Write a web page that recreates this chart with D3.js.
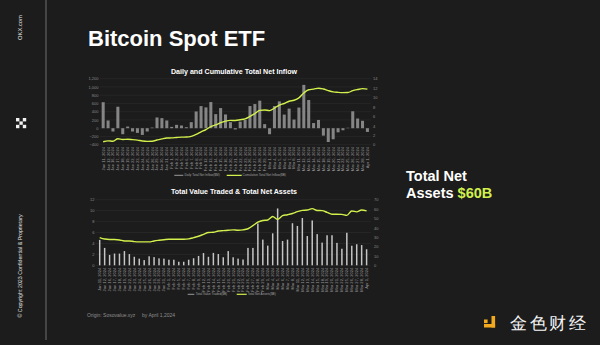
<!DOCTYPE html>
<html><head><meta charset="utf-8">
<script src="https://cdn.jsdelivr.net/npm/d3@7"></script>
<style>
html,body{margin:0;padding:0;background:#1c1c1c;overflow:hidden}
svg{display:block}
text{font-family:"Liberation Sans",Arial,Helvetica,sans-serif}
</style></head><body>
<svg id="c" width="600" height="345"></svg>
<script>
const dates = ["Jan 11, 2024","Jan 12, 2024","Jan 16, 2024","Jan 17, 2024","Jan 18, 2024","Jan 19, 2024","Jan 22, 2024","Jan 23, 2024","Jan 24, 2024","Jan 25, 2024","Jan 26, 2024","Jan 29, 2024","Jan 30, 2024","Jan 31, 2024",
"Feb 1, 2024","Feb 2, 2024","Feb 5, 2024","Feb 6, 2024","Feb 7, 2024","Feb 8, 2024","Feb 9, 2024","Feb 12, 2024","Feb 13, 2024","Feb 14, 2024","Feb 15, 2024","Feb 16, 2024","Feb 20, 2024","Feb 21, 2024","Feb 22, 2024","Feb 23, 2024","Feb 26, 2024","Feb 27, 2024","Feb 28, 2024","Feb 29, 2024",
"Mar 1, 2024","Mar 4, 2024","Mar 5, 2024","Mar 6, 2024","Mar 7, 2024","Mar 8, 2024","Mar 11, 2024","Mar 12, 2024","Mar 13, 2024","Mar 14, 2024","Mar 15, 2024","Mar 18, 2024","Mar 19, 2024","Mar 20, 2024","Mar 21, 2024","Mar 22, 2024","Mar 25, 2024","Mar 26, 2024","Mar 27, 2024","Mar 28, 2024",
"Apr 1, 2024"];
// Daily Total Net Inflow ($M)
const dailyInflow = [630,187,-80,520,-146,40,-80,-114,-163,-80,15,260,244,187,32,81,65,24,146,406,536,504,634,341,488,333,146,-30,160,200,537,585,667,98,-146,537,650,330,475,210,500,1050,683,125,200,-180,-335,-268,-100,-50,10,410,235,180,-90];
// Cumulative Total Net Inflow ($B)
const cumulativeInflow = [0.63,0.82,0.74,1.26,1.11,1.15,1.07,0.96,0.79,0.71,0.73,0.99,1.23,1.42,1.45,1.53,1.6,1.62,1.77,2.17,2.71,3.21,3.85,4.19,4.68,5.01,5.16,5.13,5.29,5.49,6.02,6.61,7.28,7.37,7.23,7.76,8.41,8.74,9.22,9.43,9.93,10.98,11.66,11.79,11.99,11.81,11.47,11.2,11.1,11.05,11.06,11.47,11.71,11.89,11.8];
// Total Value Traded ($B)
const valueTraded = [4.65,3.18,1.9,2.15,2.14,2.6,2.05,1.56,1.22,0.95,1.65,1.5,1.27,1.22,1.02,1.02,0.65,0.65,1.02,1.29,1.71,2.24,1.56,2.27,2.06,1.47,2.6,1.47,1.22,1.06,3.18,3.18,7.65,4.7,3.6,5.85,10.4,4.45,4.7,7.7,7.2,8.65,5.35,8.2,5.7,4.15,5.5,5.5,4.1,3.03,5.95,3.58,3.85,3.7,2.94];
// Total Net Assets ($B)
const netAssets = [29.5,28,27.5,27.5,27,26,26,25.3,25,25,25,26,26.7,27.3,27.8,27.8,27.8,27.8,28.2,29.5,31,33,35,35.3,36.6,37,37.4,37.8,37.4,37.8,39,42.3,46,47.8,48.3,52,49,53,54,55.3,57.3,58.6,59,60.5,58.5,58.3,56.5,54.5,54.5,54.3,53.3,58,57,59,58];

const inflowTicks = [-400,-200,0,200,400,600,800,1000,1200];
const cumTicks = [0,2,4,6,8,10,12,14];
const tradedTicks = [0,2,4,6,8,10,12];
const assetTicks = [0,10,20,30,40,50,60,70];

const GREEN = "#d2f14c";
const AX = "#8a8a8a";
const svg = d3.select("#c");
svg.append("rect").attr("width",600).attr("height",345).attr("fill","#1c1c1c");

// ---------- sidebar ----------
svg.append("line").attr("x1",46).attr("x2",46).attr("y1",0).attr("y2",340)
  .attr("stroke","#5e5e5e").attr("stroke-width",1.3);
svg.append("text").attr("transform","translate(22,27.5) rotate(-90)")
  .attr("text-anchor","middle").attr("fill","#e8e8e8").attr("font-size",5.8).text("OKX.com");
svg.append("text").attr("transform","translate(22,266) rotate(-90)")
  .attr("text-anchor","middle").attr("fill","#e0e0e0").attr("font-size",5.3)
  .text("© Copyright 2023 Confidential & Proprietary");
[[0,0],[2,0],[1,1],[0,2],[2,2]].forEach(([i,j])=>{
  svg.append("rect").attr("x",16+i*3.4).attr("y",118+j*3.4).attr("width",3.4).attr("height",3.4).attr("fill","#f2f2f2");
});

// ---------- title ----------
svg.append("text").attr("x",88).attr("y",46).attr("fill","#ffffff")
  .attr("font-size",22).attr("font-weight","bold").text("Bitcoin Spot ETF");

// ---------- right text ----------
svg.append("text").attr("x",406).attr("y",180.5).attr("fill","#ffffff")
  .attr("font-size",14.5).attr("font-weight","bold").text("Total Net");
const t2 = svg.append("text").attr("x",406).attr("y",198).attr("fill","#ffffff")
  .attr("font-size",14.5).attr("font-weight","bold");
t2.append("tspan").text("Assets ");
t2.append("tspan").attr("fill",GREEN).text("$60B");

// ---------- footer ----------
svg.append("text").attr("x",87).attr("y",317).attr("fill","#8e8e8e").attr("font-size",5)
  .text("Origin: Sosovalue.xyz");
svg.append("text").attr("x",142).attr("y",317).attr("fill","#8e8e8e").attr("font-size",5)
  .text("by April 1,2024");

// ---------- logo bottom-right ----------
const lg = svg.append("g").attr("fill","#f2a91d");
lg.append("rect").attr("x",484).attr("y",319.5).attr("width",3.6).attr("height",3.6);
lg.append("rect").attr("x",491.5).attr("y",316).attr("width",3.6).attr("height",11.5);
lg.append("rect").attr("x",484).attr("y",324).attr("width",11.1).attr("height",3.5);
svg.append("text").attr("x",510).attr("y",328.5).attr("fill","#f4f4f4")
  .attr("font-family","'Noto Sans CJK SC'").attr("font-size",16.5).attr("letter-spacing",2.5)
  .text("金色财经");

// ---------- helper: axis styling ----------
function styleAxis(g, anchor){
  g.select(".domain").remove();
  g.selectAll("text").attr("fill",AX).attr("font-size",4).style("font-family","'Liberation Sans',Arial,sans-serif");
  if(anchor) g.selectAll("text").attr("text-anchor",anchor);
}
function dateAxis(g){
  g.select(".domain").remove();
  g.selectAll("text").attr("fill","#9a9a9a").attr("font-size",4.1)
    .attr("transform","rotate(-90)").attr("x",-1.5).attr("y",0).attr("dy","0.35em")
    .style("text-anchor","end").style("font-family","'Liberation Sans',Arial,sans-serif");
}

// ---------- chart 1 ----------
const c1 = svg.append("g");
c1.append("defs").append("clipPath").attr("id","clip1").append("rect")
  .attr("x",80).attr("y",60).attr("width",320).attr("height",116.8);
const p1 = c1.append("g").attr("clip-path","url(#clip1)");
p1.append("text").attr("x",234).attr("y",73.5).attr("text-anchor","middle")
  .attr("fill","#ffffff").attr("font-size",7.1).attr("font-weight","bold")
  .text("Daily and Cumulative Total Net Inflow");

const x1 = d3.scaleBand().domain(dates).range([99.8,370.8]).padding(0.38);
const yL1 = d3.scaleLinear().domain([-400,1200]).range([144.7,78.7]);
const yR1 = d3.scaleLinear().domain([0,14]).range([144.7,78.7]);

p1.append("g").selectAll("line").data(inflowTicks).join("line")
  .attr("x1",99.8).attr("x2",370.8).attr("y1",d=>yL1(d)).attr("y2",d=>yL1(d))
  .attr("stroke","#303030").attr("stroke-width",0.5);
p1.append("g").attr("transform","translate(98.5,0)")
  .call(d3.axisLeft(yL1).tickValues(inflowTicks).tickSize(0).tickPadding(0)).call(g=>styleAxis(g,"end"));
p1.append("g").attr("transform","translate(373,0)")
  .call(d3.axisRight(yR1).tickValues(cumTicks).tickSize(0).tickPadding(0)).call(g=>styleAxis(g,"start"));

p1.append("g").selectAll("rect").data(dailyInflow).join("rect")
  .attr("x",(d,i)=>x1(dates[i])).attr("width",x1.bandwidth())
  .attr("y",d=>Math.min(yL1(d),yL1(0))).attr("height",d=>Math.abs(yL1(d)-yL1(0)))
  .attr("fill","#858585");

p1.append("path").datum(cumulativeInflow)
  .attr("d",d3.line().x((d,i)=>x1(dates[i])+x1.bandwidth()/2).y(d=>yR1(d)).curve(d3.curveMonotoneX))
  .attr("fill","none").attr("stroke",GREEN).attr("stroke-width",1.4);

p1.append("g").attr("transform","translate(0,145.5)")
  .call(d3.axisBottom(x1).tickSize(0)).call(dateAxis);

// legend 1
p1.append("line").attr("x1",174.3).attr("x2",183.3).attr("y1",175.3).attr("y2",175.3).attr("stroke","#9a9a9a").attr("stroke-width",1);
p1.append("text").attr("x",184.5).attr("y",176.4).attr("fill","#a0a0a0").attr("font-size",3.1).text("Daily Total Net Inflow($M)");
p1.append("line").attr("x1",226.7).attr("x2",241.7).attr("y1",175.3).attr("y2",175.3).attr("stroke",GREEN).attr("stroke-width",1.2);
p1.append("text").attr("x",242.5).attr("y",176.4).attr("fill","#a0a0a0").attr("font-size",3.1).text("Cumulative Total Net Inflow($B)");

// ---------- chart 2 ----------
const p2 = svg.append("g");
p2.append("text").attr("x",234).attr("y",193.5).attr("text-anchor","middle")
  .attr("fill","#ffffff").attr("font-size",7.1).attr("font-weight","bold")
  .text("Total Value Traded & Total Net Assets");

const x2 = d3.scaleBand().domain(dates).range([95.5,370.8]).padding(0.7);
const yL2 = d3.scaleLinear().domain([0,12]).range([265.3,199.7]);
const yR2 = d3.scaleLinear().domain([0,70]).range([265.3,199.7]);

p2.append("g").selectAll("line").data(tradedTicks).join("line")
  .attr("x1",95.5).attr("x2",370.8).attr("y1",d=>yL2(d)).attr("y2",d=>yL2(d))
  .attr("stroke","#303030").attr("stroke-width",0.5);
p2.append("g").attr("transform","translate(94.5,0)")
  .call(d3.axisLeft(yL2).tickValues(tradedTicks).tickSize(0).tickPadding(0)).call(g=>styleAxis(g,"end"));
p2.append("g").attr("transform","translate(374,0)")
  .call(d3.axisRight(yR2).tickValues(assetTicks).tickSize(0).tickPadding(0)).call(g=>styleAxis(g,"start"));

p2.append("g").selectAll("rect").data(valueTraded).join("rect")
  .attr("x",(d,i)=>x2(dates[i])).attr("width",x2.bandwidth())
  .attr("y",d=>yL2(d)).attr("height",d=>yL2(0)-yL2(d))
  .attr("fill","#c6c6c6");

p2.append("path").datum(netAssets)
  .attr("d",d3.line().x((d,i)=>x2(dates[i])+x2.bandwidth()/2).y(d=>yR2(d)).curve(d3.curveMonotoneX))
  .attr("fill","none").attr("stroke",GREEN).attr("stroke-width",1.4);

p2.append("g").attr("transform","translate(0,266.2)")
  .call(d3.axisBottom(x2).tickSize(0)).call(dateAxis);

// legend 2
p2.append("line").attr("x1",187.7).attr("x2",194.3).attr("y1",294.3).attr("y2",294.3).attr("stroke","#9a9a9a").attr("stroke-width",1);
p2.append("text").attr("x",195.7).attr("y",295.4).attr("fill","#a0a0a0").attr("font-size",3.1).text("Total Value Traded($B)");
p2.append("line").attr("x1",236.7).attr("x2",246.7).attr("y1",294.3).attr("y2",294.3).attr("stroke",GREEN).attr("stroke-width",1.2);
p2.append("text").attr("x",247.7).attr("y",295.4).attr("fill","#a0a0a0").attr("font-size",3.1).text("Total Net Assets($B)");
</script>
</body></html>
